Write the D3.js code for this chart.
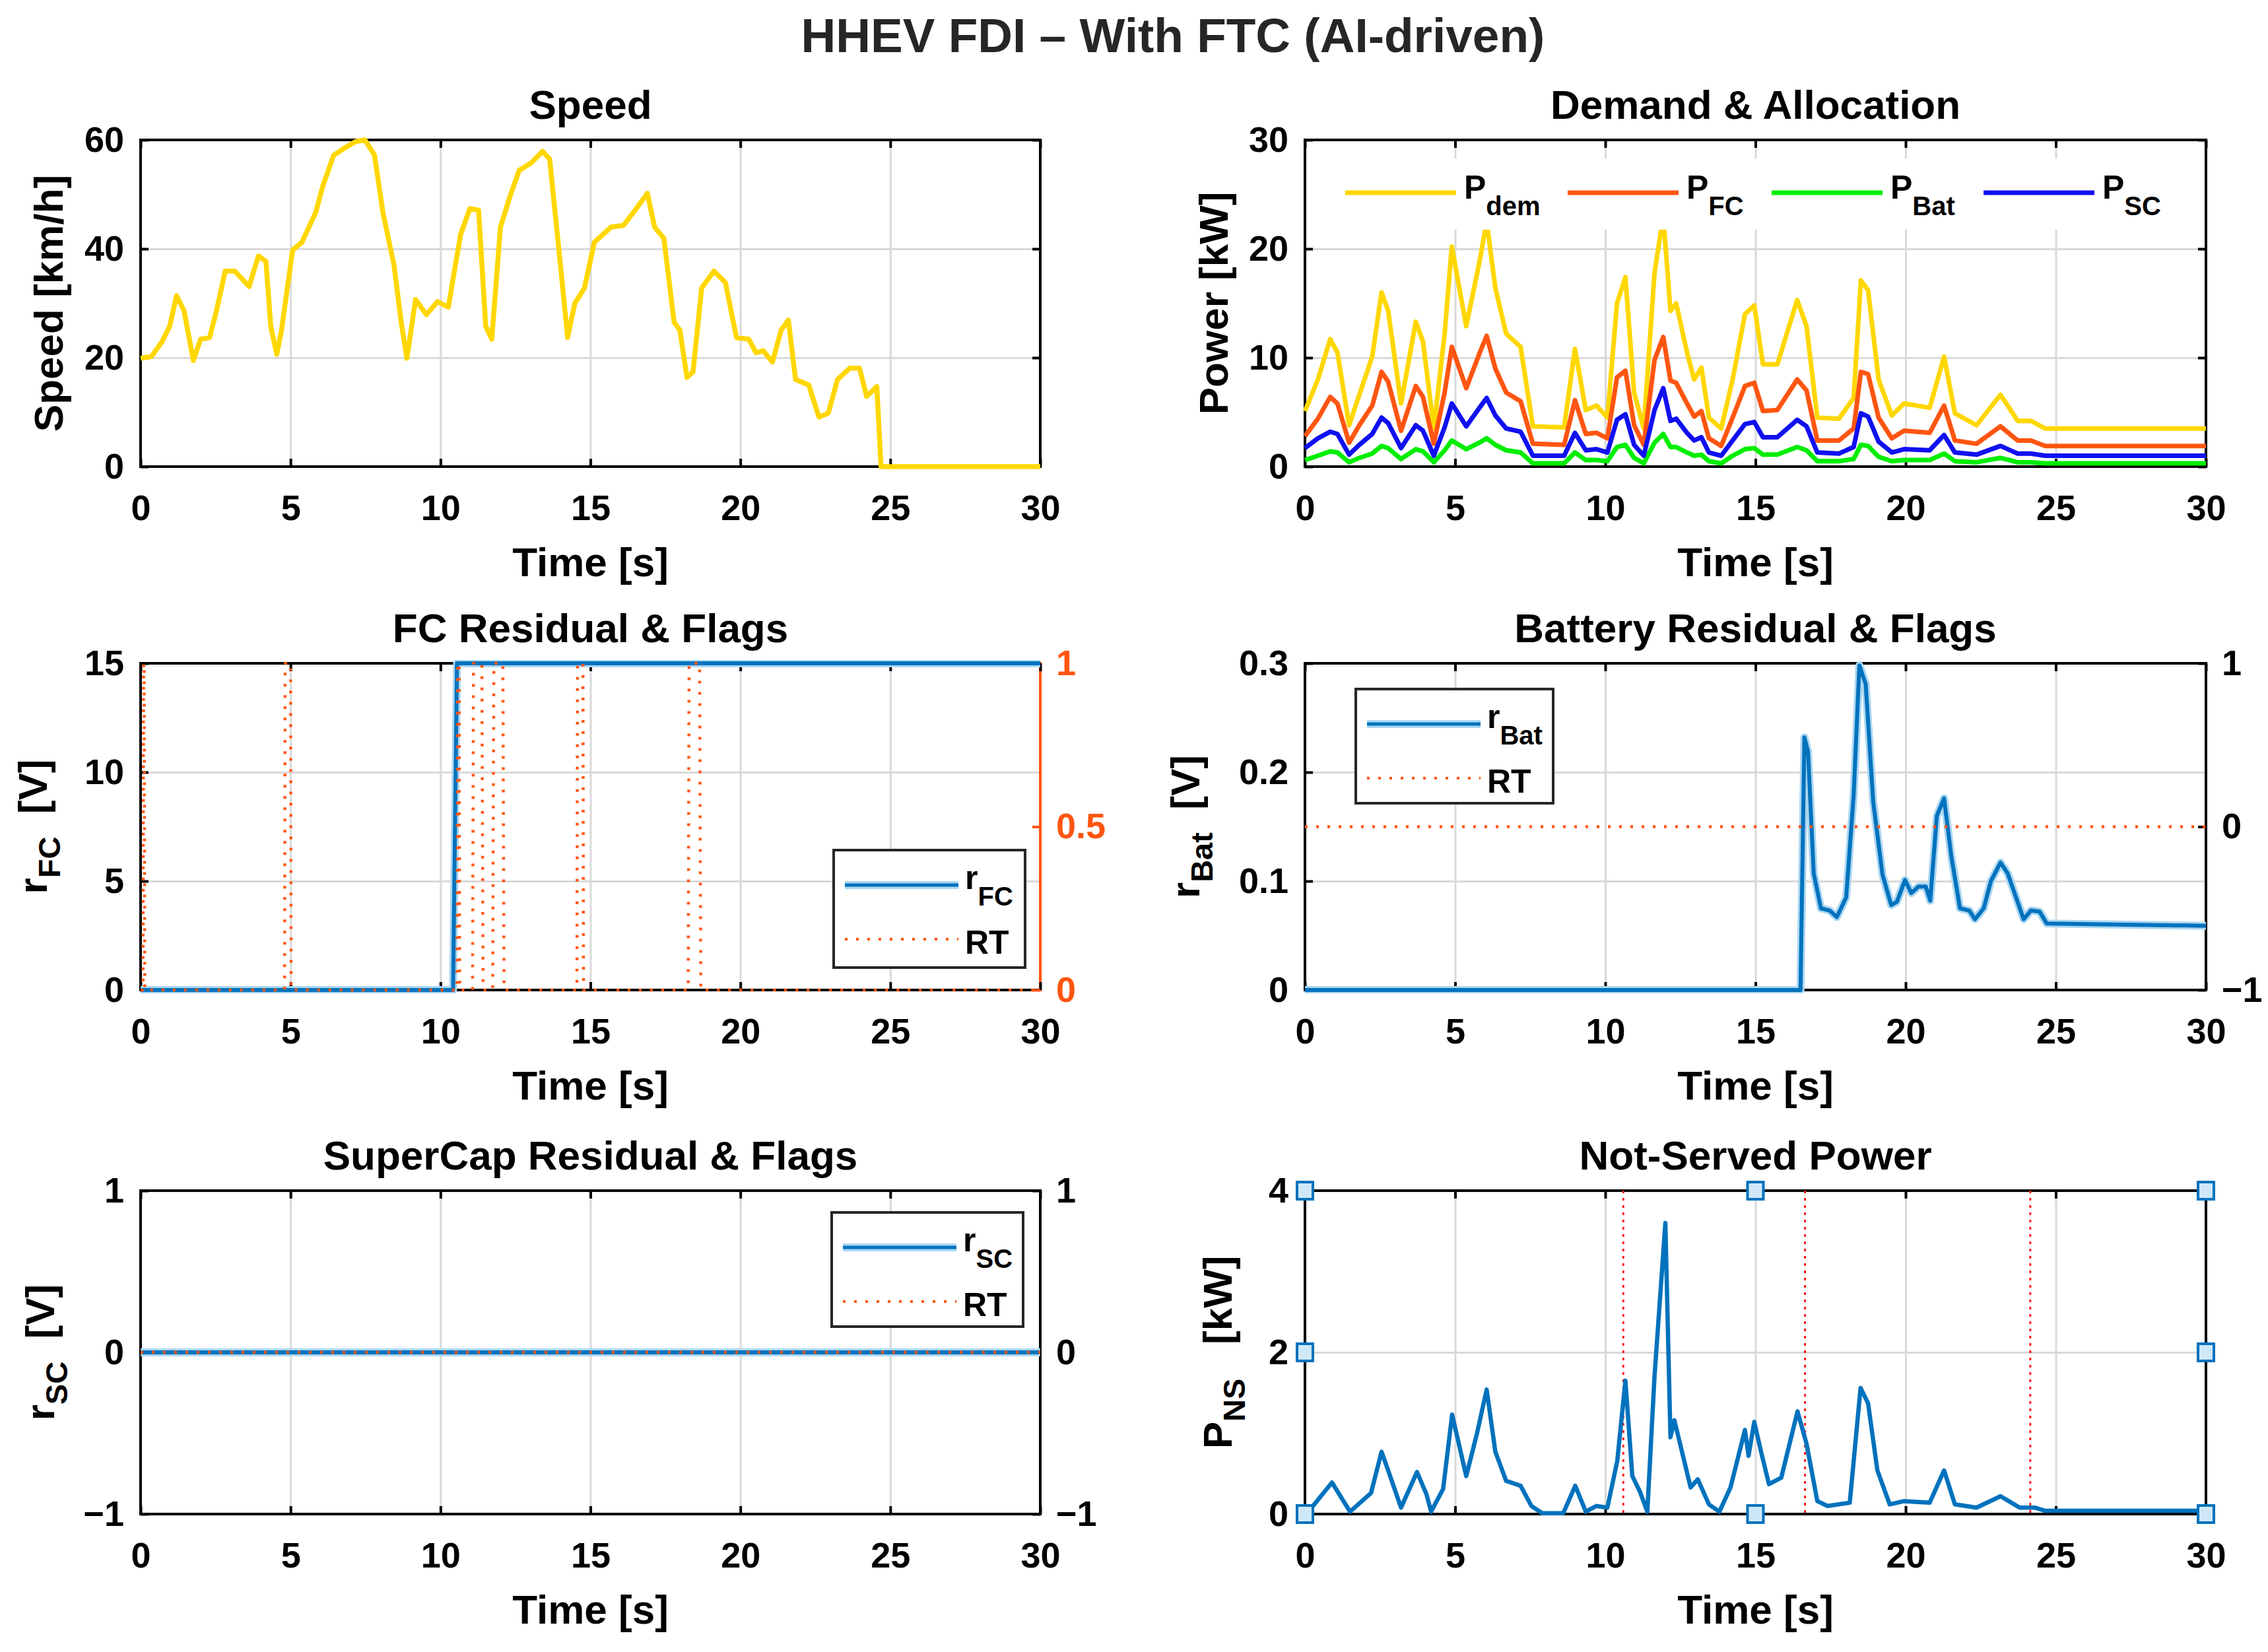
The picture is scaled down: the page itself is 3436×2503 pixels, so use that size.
<!DOCTYPE html>
<html>
<head>
<meta charset="utf-8">
<script src="https://cdn.jsdelivr.net/npm/d3@7"></script>
<style>
  body { margin: 0; background: #fff; }
  svg { display: block; }
  text { font-family: "Liberation Sans", Arial, Helvetica, sans-serif; font-weight: bold; white-space: pre; }
</style>
</head>
<body>
<script>
const W = 3436, H = 2503;

// ---- data ----
const timeTicks = [0, 5, 10, 15, 20, 25, 30];

// Speed [km/h]
const speedT = [0,0.36,0.72,0.97,1.2,1.45,1.76,2.0,2.3,2.53,2.82,3.14,3.62,3.93,4.18,4.34,4.54,4.7,5.07,5.38,5.84,6.08,6.44,6.83,7.17,7.48,7.8,8.08,8.45,8.69,8.88,9.17,9.53,9.9,10.26,10.67,10.98,11.27,11.51,11.71,12.0,12.31,12.62,13.03,13.4,13.64,14.0,14.24,14.48,14.8,15.13,15.69,16.1,16.53,16.9,17.14,17.45,17.79,17.98,18.22,18.42,18.71,19.12,19.5,19.87,20.28,20.52,20.76,21.07,21.36,21.6,21.84,22.28,22.62,22.93,23.24,23.65,23.97,24.21,24.55,24.69,30];
const speedV = [19.9,20.2,23,25.8,31.4,28.6,19.5,23.4,23.7,28.6,35.9,35.9,33.1,38.7,37.7,25.8,20.6,25.1,39.8,41.2,46.7,51.6,57.2,58.6,59.7,60,57.2,46.7,37,26.5,19.9,30.7,27.9,30.3,29.3,42.6,47.4,47.1,25.8,23.4,44,49.5,54.4,55.8,57.9,56.5,37,23.7,30,32.8,41.2,44,44.3,47.4,50.2,44,41.9,26.5,25.1,16.4,17.4,32.8,35.9,33.8,23.7,23.4,20.9,21.3,19.2,25.1,26.9,16,15,9.1,9.8,16,18.1,18.1,12.9,14.7,0,0];

// Demand & allocation [kW]
const demT = [0,0.43,0.84,1.08,1.47,1.81,2.24,2.55,2.77,3.2,3.69,3.93,4.29,4.65,4.89,5.37,5.81,6.05,6.34,6.7,7.18,7.59,8.63,8.99,9.35,9.71,10.07,10.39,10.67,10.96,11.28,11.64,11.93,12.17,12.36,12.72,12.96,13.2,13.45,13.86,14.24,14.65,14.96,15.25,15.73,16.39,16.7,17.06,17.78,18.27,18.51,18.75,19.1,19.54,19.95,20.8,21.28,21.64,22.36,23.16,23.73,24.17,24.65,30];
const pDem = [5.1,8.0,11.7,10.5,3.8,6.6,10.1,16.0,14.3,5.8,13.3,11.5,3.5,12.2,20.2,12.9,18.8,22.5,16.4,12.2,11.0,3.7,3.6,10.8,5.2,5.6,4.5,15.0,17.4,6.8,3.5,17.8,23.0,14.3,15.0,10.5,8.0,9.1,4.5,3.5,8.0,14.0,14.8,9.4,9.4,15.3,12.9,4.5,4.4,6.3,17.1,16.2,8.0,4.7,5.8,5.4,10.1,4.9,3.8,6.6,4.2,4.2,3.5,3.5];
const pFC  = [2.8,4.4,6.4,5.8,2.2,3.8,5.6,8.7,7.8,3.3,7.4,6.4,2.1,6.8,11.0,7.2,10.4,12.0,9.0,6.8,6.0,2.1,2.0,6.1,3.0,3.1,2.6,8.2,8.8,3.8,2.0,9.8,11.9,7.9,7.7,5.8,4.6,5.1,2.6,1.9,4.5,7.4,7.7,5.1,5.2,8.0,7.0,2.4,2.4,3.5,8.7,8.5,4.5,2.6,3.3,3.1,5.6,2.4,2.1,3.7,2.4,2.4,1.9,1.9];
const pBat = [0.6,1.0,1.4,1.3,0.4,0.8,1.2,1.9,1.7,0.7,1.6,1.4,0.4,1.5,2.4,1.6,2.2,2.6,2.0,1.5,1.3,0.3,0.3,1.3,0.6,0.6,0.5,1.8,2.0,0.8,0.3,2.2,3.0,1.8,1.8,1.3,1.0,1.1,0.5,0.3,1.0,1.6,1.7,1.1,1.1,1.8,1.5,0.5,0.5,0.7,2.0,1.9,0.9,0.5,0.6,0.6,1.2,0.5,0.4,0.8,0.4,0.4,0.3,0.3];
const pSC  = [1.7,2.6,3.2,3.0,1.1,2.0,3.0,4.5,4.0,1.7,3.8,3.3,1.0,3.6,5.8,3.7,5.4,6.3,4.7,3.5,3.2,1.0,1.0,3.1,1.5,1.6,1.3,4.3,4.8,2.0,1.0,5.2,7.2,4.2,4.4,3.1,2.4,2.7,1.3,1.0,2.4,3.9,4.1,2.7,2.7,4.3,3.7,1.3,1.2,1.8,4.9,4.6,2.3,1.3,1.6,1.5,2.9,1.3,1.1,1.9,1.2,1.2,1.0,1.0];

// FC residual [V] and its residual-test flag
const rFcT = [0, 10.42, 10.55, 30];
const rFcV = [0, 0, 15, 15];
const fcRtT = [0,0.08,0.1,0.12,0.14,4.8,4.82,5.0,5.02,10.55,10.57,10.62,10.64,11.07,11.1,11.38,11.42,11.74,11.78,12.08,12.12,14.55,14.57,14.75,14.77,18.26,18.29,18.64,18.68,30];
const fcRtV = [0,0,1,1,0,0,1,1,0,0,1,1,0,0,1,1,0,0,1,1,0,0,1,1,0,0,1,1,0,0];

// Battery residual [V] and flag
const rBatT = [0,16.5,16.63,16.75,16.94,17.18,17.47,17.71,18.02,18.27,18.46,18.67,18.92,19.23,19.52,19.71,19.98,20.19,20.43,20.67,20.82,21.04,21.28,21.52,21.81,22.12,22.31,22.6,22.84,23.16,23.4,23.69,23.93,24.17,24.46,24.7,30];
const rBatV = [0,0,0.232,0.219,0.107,0.075,0.073,0.067,0.085,0.179,0.298,0.281,0.173,0.106,0.078,0.081,0.101,0.089,0.095,0.095,0.082,0.16,0.176,0.123,0.075,0.073,0.065,0.075,0.1,0.117,0.107,0.084,0.065,0.073,0.072,0.061,0.059];
const batRtT = [0, 30];
const batRtV = [0, 0];

// SuperCap residual [V] and flag
const rScT = [0, 30];
const rScV = [0, 0];
const scRtT = [0, 30];
const scRtV = [0, 0];

// Not-served power [kW]
const pnsT = [0.07,0.9,1.5,2.2,2.55,2.77,3.2,3.73,4.05,4.2,4.6,4.9,5.37,5.73,6.05,6.34,6.7,7.18,7.54,7.9,8.6,9.0,9.35,9.7,10.07,10.4,10.67,10.9,11.15,11.4,11.64,12.0,12.17,12.3,12.6,12.84,13.08,13.45,13.8,14.17,14.65,14.77,14.96,15.2,15.45,15.86,16.4,16.7,17.06,17.4,18.14,18.5,18.75,19.06,19.47,19.95,20.8,21.28,21.64,22.36,23.16,23.8,24.3,24.65,30];
const pnsV = [0.01,0.39,0.03,0.26,0.77,0.54,0.08,0.52,0.24,0.03,0.31,1.23,0.47,1.0,1.54,0.77,0.41,0.35,0.1,0.01,0.01,0.35,0.03,0.1,0.08,0.66,1.65,0.47,0.28,0.03,1.71,3.6,0.95,1.16,0.7,0.33,0.43,0.12,0.03,0.33,1.04,0.72,1.14,0.75,0.37,0.45,1.27,0.87,0.16,0.1,0.14,1.56,1.37,0.54,0.12,0.16,0.14,0.54,0.12,0.08,0.22,0.08,0.08,0.04,0.04];
const faultTimes = [10.6, 16.65, 24.15];
const nsMarkT = [0, 0, 0, 15, 15, 30, 30, 30];
const nsMarkV = [0, 2, 4, 0, 4, 0, 2, 4];

// ---- styles ----
const YELLOW = '#FFD700', ORANGE = '#FF5511', GREEN = '#00EE00', PBLUE = '#1010F0';
const BLUE = '#0072BD', HALO = '#aad6f2', RED = '#FF1A1A', GRID = '#d9d9d9';
const TICK_FS = 54, LABEL_FS = 62, SUB_FS = 47;

const cols = [{ left: 213, right: 1576 }, { left: 1977, right: 3342 }];
const rows = [{ top: 212, bottom: 707 }, { top: 1005, bottom: 1500 }, { top: 1804, bottom: 2294 }];

const svg = d3.select('body').append('svg').attr('width', W).attr('height', H);
svg.append('rect').attr('width', W).attr('height', H).attr('fill', '#fff');

svg.append('text')
  .attr('x', 1777).attr('y', 79)
  .attr('text-anchor', 'middle')
  .attr('font-size', 73)
  .attr('fill', '#262626')
  .text('HHEV FDI \u2013 With FTC (AI-driven)');

const toPts = (ts, vs) => d3.zip(ts, vs).map(([t, v]) => ({ t, v }));
const fmt = d3.format('~g');

function styleAxis(sel, color) {
  sel.attr('font-size', TICK_FS)
    .attr('font-family', '"Liberation Sans", Arial, sans-serif')
    .attr('font-weight', 'bold')
    .attr('color', color);
  sel.select('.domain').remove();
  sel.selectAll('.tick line').attr('stroke-width', 4);
}

// rotated y label made of parts, e.g. r + sub(FC) + [V]
function yLabel(g, xPos, yc, parts) {
  const t = g.append('text')
    .attr('transform', `translate(${xPos},${yc}) rotate(-90)`)
    .attr('text-anchor', 'middle')
    .attr('font-size', LABEL_FS)
    .attr('fill', '#000');
  let shifted = false;
  parts.forEach(p => {
    const s = t.append('tspan').text(p.t);
    if (p.sub) { s.attr('font-size', SUB_FS).attr('dy', 20); shifted = true; }
    else if (shifted) { s.attr('dy', -20); shifted = false; }
  });
}

let clipN = 0;
function panel(c, r, o) {
  const L = cols[c].left, R = cols[c].right, T = rows[r].top, B = rows[r].bottom;
  const x = d3.scaleLinear().domain([0, 30]).range([L, R]);
  const y = d3.scaleLinear().domain(o.yDomain).range([B, T]);
  const y2 = o.y2Domain ? d3.scaleLinear().domain(o.y2Domain).range([B, T]) : null;
  const g = svg.append('g');

  // grid
  g.append('g').attr('transform', `translate(0,${B})`)
    .call(d3.axisBottom(x).tickValues(timeTicks.slice(1, -1)).tickSize(-(B - T)).tickFormat(''))
    .call(a => { a.select('.domain').remove(); a.selectAll('line').attr('stroke', GRID).attr('stroke-width', 3); });
  g.append('g').attr('transform', `translate(${L},0)`)
    .call(d3.axisLeft(y).tickValues(o.yTicks.slice(1, -1)).tickSize(-(R - L)).tickFormat(''))
    .call(a => { a.select('.domain').remove(); a.selectAll('line').attr('stroke', GRID).attr('stroke-width', 3); });

  // box
  g.append('rect').attr('x', L).attr('y', T).attr('width', R - L).attr('height', B - T)
    .attr('fill', 'none').attr('stroke', '#000').attr('stroke-width', 4);
  if (o.y2Color) {
    g.append('line').attr('x1', R).attr('x2', R).attr('y1', T - 2).attr('y2', B + 2)
      .attr('stroke', o.y2Color).attr('stroke-width', 4);
  }

  // axes with inward ticks
  g.append('g').attr('transform', `translate(0,${B})`)
    .call(d3.axisBottom(x).tickValues(timeTicks).tickSize(-12).tickPadding(43).tickFormat(fmt))
    .call(a => styleAxis(a, '#000'));
  g.append('g').attr('transform', `translate(0,${T})`)
    .call(d3.axisTop(x).tickValues(timeTicks).tickSize(-12).tickFormat(''))
    .call(a => styleAxis(a, '#000'));
  g.append('g').attr('transform', `translate(${L},0)`)
    .call(d3.axisLeft(y).tickValues(o.yTicks).tickSize(-12).tickPadding(25).tickFormat(fmt))
    .call(a => styleAxis(a, '#000'));
  if (y2) {
    g.append('g').attr('transform', `translate(${R},0)`)
      .call(d3.axisRight(y2).tickValues(o.y2Ticks).tickSize(-12).tickPadding(24).tickFormat(fmt))
      .call(a => styleAxis(a, o.y2Color || '#000'));
  } else {
    g.append('g').attr('transform', `translate(${R},0)`)
      .call(d3.axisRight(y).tickValues(o.yTicks).tickSize(-12).tickFormat(''))
      .call(a => styleAxis(a, '#000'));
  }

  // texts
  g.append('text').attr('x', (L + R) / 2).attr('y', T - 32).attr('text-anchor', 'middle')
    .attr('font-size', LABEL_FS).attr('fill', '#000').text(o.title);
  g.append('text').attr('x', (L + R) / 2).attr('y', B + 166).attr('text-anchor', 'middle')
    .attr('font-size', LABEL_FS).attr('fill', '#000').text('Time [s]');
  yLabel(g, L - o.yLabelOff, (T + B) / 2, o.yLabel);

  // data layer, clipped a little outside the box so edge lines show
  const id = 'clip' + (clipN++);
  svg.append('clipPath').attr('id', id).append('rect')
    .attr('x', L - 5).attr('y', T - 5).attr('width', R - L + 10).attr('height', B - T + 10);
  const data = svg.append('g').attr('clip-path', `url(#${id})`);
  return { x, y, y2, data, g, L, R, T, B };
}

function drawLine(layer, x, y, pts, color, width, dash, halo) {
  const line = d3.line().x(d => x(d.t)).y(d => y(d.v));
  if (halo) {
    layer.append('path').datum(pts).attr('d', line).attr('fill', 'none')
      .attr('stroke', halo).attr('stroke-width', width + 6).attr('stroke-linejoin', 'round');
  }
  layer.append('path').datum(pts).attr('d', line).attr('fill', 'none')
    .attr('stroke', color).attr('stroke-width', width)
    .attr('stroke-linejoin', 'round')
    .attr('stroke-dasharray', dash || null);
}

// boxed legend with a residual line and the RT flag
function boxLegend(g, x0, y0, w, h, subName) {
  g.append('rect').attr('x', x0).attr('y', y0).attr('width', w).attr('height', h)
    .attr('fill', '#fff').attr('stroke', '#262626').attr('stroke-width', 4);
  const ly1 = y0 + 53, ly2 = y0 + 135;
  g.append('line').attr('x1', x0 + 17).attr('x2', x0 + 189).attr('y1', ly1).attr('y2', ly1)
    .attr('stroke', HALO).attr('stroke-width', 12);
  g.append('line').attr('x1', x0 + 17).attr('x2', x0 + 189).attr('y1', ly1).attr('y2', ly1)
    .attr('stroke', BLUE).attr('stroke-width', 5);
  g.append('line').attr('x1', x0 + 17).attr('x2', x0 + 189).attr('y1', ly2).attr('y2', ly2)
    .attr('stroke', ORANGE).attr('stroke-width', 4).attr('stroke-dasharray', '4 13');
  const t = g.append('text').attr('x', x0 + 199).attr('y', ly1 + 6).attr('font-size', 50).attr('fill', '#000');
  t.append('tspan').text('r');
  t.append('tspan').attr('font-size', 40).attr('dy', 25).text(subName);
  g.append('text').attr('x', x0 + 199).attr('y', ly2 + 22).attr('font-size', 50).attr('fill', '#000').text('RT');
}

// ---- Speed ----
{
  const p = panel(0, 0, { yDomain: [0, 60], yTicks: [0, 20, 40, 60], title: 'Speed',
    yLabel: [{ t: 'Speed [km/h]' }], yLabelOff: 118 });
  drawLine(p.data, p.x, p.y, toPts(speedT, speedV), YELLOW, 7.5);
}

// ---- Demand & Allocation ----
{
  const p = panel(1, 0, { yDomain: [0, 30], yTicks: [0, 10, 20, 30], title: 'Demand & Allocation',
    yLabel: [{ t: 'Power [kW]' }], yLabelOff: 117 });
  const series = [
    { v: pDem, color: YELLOW, sub: 'dem' },
    { v: pFC, color: ORANGE, sub: 'FC' },
    { v: pBat, color: GREEN, sub: 'Bat' },
    { v: pSC, color: PBLUE, sub: 'SC' }
  ];
  series.forEach(s => drawLine(p.data, p.x, p.y, toPts(demT, s.v), s.color, 7));
  // legend (white background, no box)
  p.data.append('rect').attr('x', 2025).attr('y', 240).attr('width', 1295).attr('height', 108).attr('fill', '#fff');
  const legX = [2038, 2375, 2684, 3005];
  series.forEach((s, i) => {
    const lx = legX[i];
    svg.append('line').attr('x1', lx).attr('x2', lx + 168).attr('y1', 292).attr('y2', 292)
      .attr('stroke', s.color).attr('stroke-width', 7);
    const t = svg.append('text').attr('x', lx + 180).attr('y', 301).attr('font-size', 50).attr('fill', '#000');
    t.append('tspan').text('P');
    t.append('tspan').attr('font-size', 40).attr('dy', 25).text(s.sub);
  });
}

// ---- FC Residual & Flags ----
{
  const p = panel(0, 1, { yDomain: [0, 15], yTicks: [0, 5, 10, 15], y2Domain: [0, 1], y2Ticks: [0, 0.5, 1],
    y2Color: ORANGE, title: 'FC Residual & Flags',
    yLabel: [{ t: 'r' }, { t: 'FC', sub: true }, { t: '  [V]' }], yLabelOff: 142 });
  drawLine(p.data, p.x, p.y, toPts(rFcT, rFcV), BLUE, 6, null, HALO);
  drawLine(p.data, p.x, p.y2, toPts(fcRtT, fcRtV), ORANGE, 4.5, '4 13');
  boxLegend(svg, 1263, 1288, 290, 178, 'FC');
}

// ---- Battery Residual & Flags ----
{
  const p = panel(1, 1, { yDomain: [0, 0.3], yTicks: [0, 0.1, 0.2, 0.3], y2Domain: [-1, 1], y2Ticks: [-1, 0, 1],
    title: 'Battery Residual & Flags',
    yLabel: [{ t: 'r' }, { t: 'Bat', sub: true }, { t: '  [V]' }], yLabelOff: 160 });
  drawLine(p.data, p.x, p.y, toPts(rBatT, rBatV), BLUE, 6, null, HALO);
  drawLine(p.data, p.x, p.y2, toPts(batRtT, batRtV), ORANGE, 4.5, '4 13');
  boxLegend(svg, 2054, 1044, 299, 173, 'Bat');
}

// ---- SuperCap Residual & Flags ----
{
  const p = panel(0, 2, { yDomain: [-1, 1], yTicks: [-1, 0, 1], y2Domain: [-1, 1], y2Ticks: [-1, 0, 1],
    title: 'SuperCap Residual & Flags',
    yLabel: [{ t: 'r' }, { t: 'SC', sub: true }, { t: '  [V]' }], yLabelOff: 131 });
  drawLine(p.data, p.x, p.y, toPts(rScT, rScV), BLUE, 6, null, HALO);
  drawLine(p.data, p.x, p.y2, toPts(scRtT, scRtV), ORANGE, 4.5, '4 13');
  boxLegend(svg, 1260, 1837, 290, 173, 'SC');
}

// ---- Not-Served Power ----
{
  const p = panel(1, 2, { yDomain: [0, 4], yTicks: [0, 2, 4], title: 'Not-Served Power',
    yLabel: [{ t: 'P' }, { t: 'NS', sub: true }, { t: '   [kW]' }], yLabelOff: 111 });
  p.data.selectAll('line.fault').data(faultTimes).join('line').attr('class', 'fault')
    .attr('x1', d => p.x(d)).attr('x2', d => p.x(d)).attr('y1', p.T).attr('y2', p.B)
    .attr('stroke', RED).attr('stroke-width', 3).attr('stroke-dasharray', '4 7');
  drawLine(p.data, p.x, p.y, toPts(pnsT, pnsV), BLUE, 6.5);
  svg.append('g').selectAll('rect').data(toPts(nsMarkT, nsMarkV)).join('rect')
    .attr('x', d => p.x(d.t) - 12).attr('y', d => p.y(d.v) - 13)
    .attr('width', 24).attr('height', 26)
    .attr('fill', '#cfe8f8').attr('stroke', BLUE).attr('stroke-width', 4);
}
</script>
</body>
</html>
